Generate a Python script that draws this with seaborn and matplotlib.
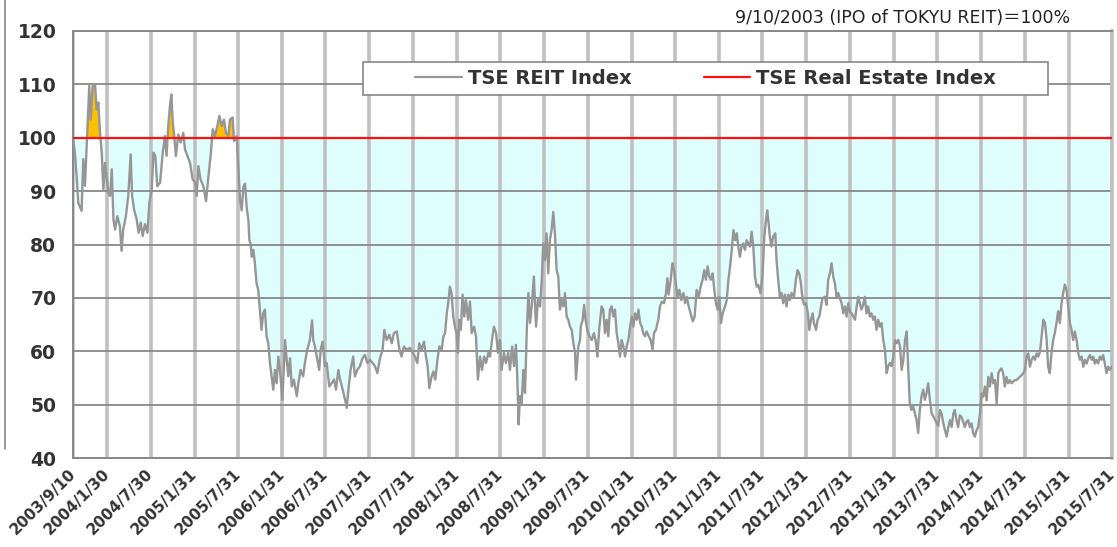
import pandas as pd
import seaborn as sns
import matplotlib.pyplot as plt
from matplotlib.patches import Rectangle
from matplotlib.lines import Line2D

# TSE REIT Index relative to TSE Real Estate Index, IPO of TOKYU REIT = 100
ipo_date = '2003-09-10'

days_since_ipo = [
    0, 8, 15, 22, 36, 43, 50, 60, 68, 74, 82, 92, 99, 106, 113, 120, 127, 134, 148, 155,
    162, 169, 176, 185, 196, 203, 210, 221, 231, 241, 247, 255, 266, 274, 283, 291, 301, 311, 319, 329,
    336, 344, 352, 364, 375, 384, 391, 398, 405, 411, 417, 422, 430, 440, 450, 461, 468, 478, 489, 500,
    510, 517, 524, 533, 545, 556, 566, 575, 584, 593, 603, 612, 621, 631, 639, 649, 656, 667, 673, 684,
    691, 698, 705, 712, 719, 726, 733, 737, 742, 747, 754, 760, 767, 774, 781, 788, 795, 802, 809, 816,
    823, 830, 837, 844, 851, 858, 865, 875, 882, 886, 893, 900, 907, 914, 923, 935, 942, 951, 962, 969,
    979, 990, 999, 1004, 1011, 1021, 1029, 1035, 1043, 1053, 1060, 1071, 1081, 1091, 1099, 1109, 1116, 1127, 1137, 1144,
    1151, 1160, 1171, 1178, 1188, 1199, 1210, 1220, 1230, 1241, 1252, 1262, 1272, 1283, 1294, 1301, 1311, 1322, 1332, 1341,
    1353, 1364, 1373, 1383, 1394, 1408, 1429, 1439, 1447, 1457, 1467, 1475, 1482, 1489, 1499, 1506, 1514, 1523, 1531, 1541,
    1548, 1555, 1562, 1568, 1575, 1582, 1589, 1596, 1603, 1609, 1614, 1621, 1628, 1635, 1642, 1651, 1659, 1666, 1676, 1684,
    1692, 1701, 1709, 1718, 1726, 1736, 1743, 1751, 1759, 1768, 1776, 1784, 1791, 1801, 1809, 1819, 1826, 1835, 1843, 1851,
    1857, 1862, 1868, 1875, 1882, 1889, 1896, 1903, 1910, 1917, 1926, 1935, 1943, 1952, 1959, 1965, 1972, 1979, 1986, 1993,
    2000, 2007, 2014, 2021, 2028, 2035, 2042, 2049, 2056, 2063, 2070, 2077, 2084, 2091, 2098, 2102, 2112, 2119, 2122, 2130,
    2136, 2142, 2149, 2158, 2168, 2177, 2186, 2191, 2200, 2209, 2216, 2223, 2230, 2237, 2244, 2251, 2258, 2265, 2272, 2279,
    2286, 2293, 2300, 2307, 2314, 2321, 2328, 2335, 2342, 2349, 2356, 2363, 2370, 2377, 2383, 2390, 2397, 2406, 2414, 2422,
    2428, 2436, 2446, 2453, 2461, 2470, 2478, 2484, 2489, 2498, 2505, 2512, 2519, 2526, 2534, 2542, 2551, 2558, 2565, 2573,
    2581, 2590, 2598, 2606, 2615, 2623, 2631, 2638, 2645, 2652, 2659, 2666, 2673, 2680, 2687, 2694, 2701, 2708, 2715, 2725,
    2732, 2739, 2746, 2753, 2760, 2767, 2774, 2780, 2787, 2794, 2801, 2808, 2815, 2822, 2829, 2836, 2843, 2850, 2857, 2864,
    2873, 2882, 2889, 2896, 2901, 2907, 2912, 2919, 2926, 2935, 2940, 2947, 2954, 2961, 2968, 2975, 2982, 2989, 2996, 3003,
    3013, 3021, 3028, 3035, 3042, 3049, 3056, 3063, 3071, 3077, 3084, 3091, 3096, 3105, 3112, 3119, 3126, 3132, 3142, 3149,
    3156, 3163, 3170, 3177, 3184, 3191, 3198, 3205, 3212, 3219, 3226, 3233, 3240, 3247, 3254, 3261, 3268, 3275, 3282, 3288,
    3295, 3302, 3309, 3316, 3323, 3330, 3337, 3344, 3351, 3358, 3365, 3372, 3379, 3386, 3393, 3400, 3407, 3414, 3421, 3428,
    3435, 3442, 3449, 3456, 3463, 3470, 3477, 3484, 3490, 3497, 3504, 3511, 3518, 3525, 3532, 3539, 3546, 3553, 3560, 3567,
    3574, 3581, 3588, 3595, 3602, 3609, 3616, 3623, 3630, 3637, 3644, 3651, 3658, 3665, 3672, 3679, 3685, 3692, 3699, 3706,
    3713, 3720, 3727, 3734, 3741, 3748, 3755, 3762, 3769, 3776, 3783, 3790, 3797, 3804, 3811, 3818, 3825, 3832, 3839, 3846,
    3853, 3860, 3867, 3874, 3880, 3887, 3894, 3901, 3908, 3915, 3922, 3929, 3936, 3943, 3950, 3957, 3964, 3971, 3978, 3985,
    3992, 3999, 4006, 4013, 4020, 4027, 4034, 4041, 4048, 4055, 4062, 4069, 4075, 4082, 4089, 4096, 4103, 4110, 4117, 4124,
    4131, 4138, 4145, 4152, 4159, 4166, 4173, 4180, 4187, 4194, 4201, 4208, 4215, 4222, 4229, 4236, 4243, 4250, 4257, 4264,
    4270, 4277, 4284, 4291, 4298, 4305, 4312, 4319, 4326, 4333, 4342,
]

reit_vs_real_estate = [
    100, 97.2, 92.8, 87.8, 86.3, 96, 91, 101.6, 109.7, 103.4, 109.7, 110, 105.3, 106.6, 100.9, 97.2, 90.3, 95.3, 89.7, 89.1,
    94.1, 84.7, 82.8, 85.3, 83.4, 78.8, 82.8, 85.3, 89.1, 96.9, 89.1, 86.6, 84.7, 82.2, 84.1, 81.6, 83.8, 82.2, 87.8, 90.3,
    97.2, 96.6, 90.9, 91.6, 97.2, 100.3, 96.6, 102.2, 105.9, 108.1, 102.8, 100.9, 96.6, 100.6, 99.1, 100.9, 97.8, 96.6, 95.3, 92.2,
    91.6, 89.1, 94.7, 92.2, 90.9, 88.1, 92.8, 96.6, 101.6, 100.3, 102.2, 104.1, 102.2, 103.4, 100.9, 100.3, 103.4, 103.8, 99.4, 100.3,
    94.1, 88.3, 86.4, 90.8, 91.4, 86.8, 84.6, 80.8, 80.2, 77.7, 79, 76.5, 72.7, 71.5, 67.8, 64, 67.1, 67.8, 62.8, 61.5,
    57.8, 55.3, 52.8, 56.5, 54, 59, 56.5, 50.9, 57.8, 62.1, 58.4, 55.3, 58.7, 53.4, 54.7, 51.6, 54, 56.5, 55.3, 57.8,
    60.3, 62.1, 65.8, 62.1, 60.9, 58.4, 56.5, 60.3, 61.8, 57.2, 57.8, 53.4, 54, 54.7, 52.8, 56.5, 54.7, 52.8, 50.9, 49.4,
    52.8, 56.5, 59, 55.3, 56.5, 57.2, 58.7, 59.3, 57.8, 58.4, 57.8, 57.2, 55.9, 58.7, 60.3, 64, 62.1, 63.1, 61.5, 63.4,
    63.7, 60.3, 59, 60.9, 60.3, 60.6, 59, 57.8, 61.5, 60.3, 61.8, 59, 57.2, 53.1, 55.3, 56.2, 54.7, 58.4, 60.9, 60.3,
    62.8, 63.4, 67.1, 69, 72.1, 70.9, 66.5, 64.6, 63.4, 59.7, 65.9, 64, 70.6, 66.5, 69.6, 65.9, 69.3, 63.4, 64.6, 62.8,
    54.7, 59, 56.5, 59, 57.8, 59.7, 59, 62.1, 64.6, 63.4, 59.7, 62.1, 56.5, 59.7, 57.8, 59.7, 56.5, 60.9, 57.2, 61.2,
    54.7, 46.3, 51.6, 50.3, 56.5, 52.2, 63.4, 70.9, 65.3, 68.4, 74, 64.6, 69.6, 68.4, 73.4, 80.2, 77.1, 82.1, 74.6, 80.8,
    82.7, 86.1, 82.1, 75.2, 74, 67.8, 69.6, 68.4, 70.9, 66.5, 65.9, 64.6, 64, 61.5, 59.7, 54.7, 60.9, 62.1, 64.6, 65.9,
    68.7, 65.9, 64, 62.8, 62.1, 63.4, 61.5, 59, 64.6, 68.4, 67.8, 63.4, 65.9, 62.8, 67.8, 68.4, 66.5, 67.8, 63.4, 61.5,
    59, 62.1, 60.9, 59, 60.9, 62.1, 64.6, 66.5, 64.6, 67.1, 65.9, 67.8, 65.3, 64.6, 63.4, 62.8, 63.7, 62.8, 62.1, 60.3,
    63.4, 64, 65.9, 68.4, 69.3, 69, 70.9, 73.7, 70.6, 73.4, 76.5, 75.2, 72.7, 70.2, 71.5, 69.6, 70.9, 69, 70.2, 68.4,
    67.1, 65.6, 66.5, 71.5, 70.2, 72.1, 73.4, 75.2, 73.4, 75.9, 74, 73.4, 74.6, 71.5, 69, 67.8, 70.2, 65.3, 67.1, 68.4,
    69.6, 73.4, 75.9, 79, 82.7, 80.8, 82.1, 79.6, 77.7, 79.6, 80.2, 79, 80.8, 80.2, 79.6, 82.4, 79.6, 74, 72.1, 72.4,
    70.9, 74.6, 81.5, 84.6, 86.4, 84, 81.5, 79.6, 81.5, 82.1, 77.1, 73.4, 70.2, 70.9, 69, 70.6, 68.4, 70.6, 69.6, 70.9,
    70.2, 73.4, 75.2, 74.6, 72.7, 69.6, 68.7, 69, 67.1, 64, 65.9, 67.1, 65.3, 64, 65.9, 66.5, 68.4, 69.9, 70.2, 68.7,
    73.4, 74.6, 76.5, 74, 72.7, 70.2, 70.9, 69.9, 69, 67.1, 68.4, 66.5, 69, 67.4, 67.1, 66.5, 65.9, 68.4, 70.2, 69,
    67.8, 68.7, 70.2, 67.1, 68.4, 66.5, 67.1, 65.9, 66.5, 64, 65.9, 64.6, 65.3, 62.1, 60.3, 55.9, 57.2, 57.8, 57.2, 59,
    62.1, 61.5, 62.1, 60.9, 56.5, 58.4, 62.1, 63.7, 57.2, 50.3, 49, 49.7, 48.4, 47.2, 44.7, 49, 51.6, 52.8, 50.9, 52.2,
    54, 50.9, 48.4, 47.8, 47.2, 46.6, 46, 49, 48.3, 46.5, 45.2, 44, 45.8, 47.1, 45.8, 48.3, 49, 47.1, 45.8, 48,
    47.7, 46.8, 45.8, 46.8, 47.1, 45.8, 46.5, 44.6, 44, 45.2, 45.8, 48.3, 52.1, 51.5, 53.4, 50.8, 55.2, 53.4, 55.9, 54,
    54.6, 50.2, 55.9, 56.5, 56.8, 55.9, 53.4, 55.2, 54, 54.6, 54, 54.3, 54.6, 54.6, 54.9, 55.2, 55.5, 55.9, 56.5, 59,
    59.6, 57.1, 58.4, 59, 58.4, 59.6, 59, 59.9, 62.8, 65.9, 65.3, 62.1, 57.1, 55.9, 59.6, 62.1, 63.4, 65.3, 67.5, 65.3,
    69, 70.9, 72.5, 71.5, 68.4, 65.3, 64, 62.1, 63.7, 62.1, 59.6, 58.4, 59, 57.1, 58.4, 57.7, 58.7, 59.3, 58.4, 59,
    57.7, 58.4, 57.7, 59, 58.4, 59.3, 57.7, 55.9, 57.1, 56.5, 57.1,
]

real_estate_level = 100

tick_labels = [
    '2003/9/10', '2004/1/30', '2004/7/30', '2005/1/31', '2005/7/31', '2006/1/31', '2006/7/31',
    '2007/1/31', '2007/7/31', '2008/1/31', '2008/7/31', '2009/1/31', '2009/7/31', '2010/1/31',
    '2010/7/31', '2011/1/31', '2011/7/31', '2012/1/31', '2012/7/31', '2013/1/31', '2013/7/31',
    '2014/1/31', '2014/7/31', '2015/1/31', '2015/7/31',
]
y_ticks = [40, 50, 60, 70, 80, 90, 100, 110, 120]
series_names = ['TSE REIT Index', 'TSE Real Estate Index']

df = pd.DataFrame({
    'date': pd.Timestamp(ipo_date) + pd.to_timedelta(days_since_ipo, unit='D'),
    'reit': reit_vs_real_estate,
})
tick_dates = pd.to_datetime(tick_labels, format='%Y/%m/%d')

sns.set_style('white')
plt.rcParams['font.family'] = ['DejaVu Sans', 'Noto Sans CJK JP']

fig = plt.figure(figsize=(11.17, 5.47), dpi=100)
ax = fig.add_axes([73 / 1117, 1 - 458 / 547, 1039 / 1117, 427 / 547])

# fill below / above the 100 line
below = df['reit'] <= real_estate_level
ax.fill_between(df['date'], df['reit'], real_estate_level, where=below, interpolate=True,
                color='#dfffff', linewidth=0, zorder=1)
ax.fill_between(df['date'], df['reit'], real_estate_level, where=~below, interpolate=True,
                color='#ffc000', linewidth=0, zorder=1)

sns.lineplot(data=df, x='date', y='reit', color='#969696', linewidth=1.7, ax=ax, zorder=3)
ax.axhline(real_estate_level, color='#ff1010', linewidth=1.6, zorder=4)

ax.set_xlim(tick_dates[0], tick_dates[-1])
ax.set_ylim(y_ticks[0], y_ticks[-1])
ax.set_yticks(y_ticks)
ax.set_xticks(tick_dates)
ax.set_xticklabels(tick_labels, rotation=45, ha='right', va='center', rotation_mode='anchor',
                   fontsize=11, fontweight='bold', color='#333333')
for t in ax.get_yticklabels():
    t.set_fontweight('bold')
    t.set_fontsize(13.5)
    t.set_color('#333333')
ax.tick_params(axis='both', length=0)
ax.tick_params(axis='y', pad=12)
ax.tick_params(axis='x', pad=10)
ax.set_xlabel('')
ax.set_ylabel('')

ax.set_axisbelow('line')
ax.yaxis.grid(True, color='#888888', linewidth=1.3)
ax.xaxis.grid(True, color='#c0c0c0', linewidth=2.6)
for side, sp in ax.spines.items():
    sp.set_color('#888888')
    sp.set_linewidth(1.4)
ax.spines['right'].set_color('#c0c0c0')
ax.spines['right'].set_linewidth(2.6)

# legend box
ax.add_patch(Rectangle((0.279, 0.850), 0.659, 0.077, transform=ax.transAxes,
                       facecolor='white', edgecolor='#888888', linewidth=1.2, zorder=5))
handles = [Line2D([], [], color='#969696', linewidth=1.6),
           Line2D([], [], color='#ff1010', linewidth=1.6)]
leg = ax.legend(handles, series_names, ncol=2, frameon=False, loc='center',
                bbox_to_anchor=(0.609, 0.889), prop={'weight': 'bold', 'size': 14},
                handlelength=2.4, handletextpad=0.3, columnspacing=3.7)
leg.set_zorder(6)
for t in leg.get_texts():
    t.set_color('#333333')

fig.text(1070 / 1117, 1 - 18 / 547, '9/10/2003 (IPO of TOKYU REIT)＝100%',
         ha='right', va='center', fontsize=12.5, color='#222222')

# edge of neighbouring chart on the left
fig.add_artist(Line2D([5 / 1117, 5 / 1117], [1, 1 - 449 / 547], transform=fig.transFigure,
                      color='#888888', linewidth=1.2))

fig.savefig('out.png', dpi=100)
